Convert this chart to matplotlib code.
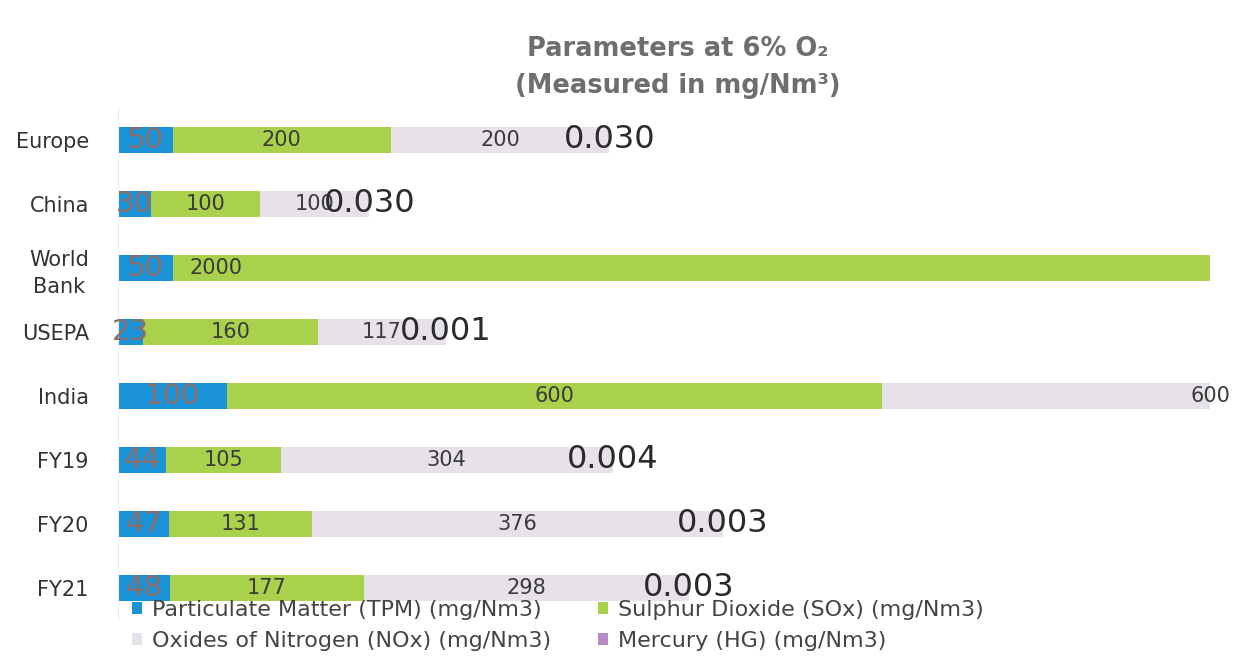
import matplotlib
matplotlib.use("Agg")
import matplotlib.pyplot as plt
import numpy as np

# Emission norms and plant performance, mg/Nm3 at 6% O2
regions = ["Europe", "China", "World\nBank", "USEPA", "India", "FY19", "FY20", "FY21"]
pm_values = [50, 30, 50, 23, 100, 44, 47, 48]
sox_values = [200, 100, 2000, 160, 600, 105, 131, 177]
nox_values = [200, 100, 0, 117, 600, 304, 376, 298]
hg_values = [0.030, 0.030, 0.0, 0.001, 0.0, 0.004, 0.003, 0.003]

series_names = [
    "Particulate Matter (TPM) (mg/Nm3)",
    "Sulphur Dioxide (SOx) (mg/Nm3)",
    "Oxides of Nitrogen (NOx) (mg/Nm3)",
    "Mercury (HG) (mg/Nm3)",
]
colors = ["#1992d8", "#a9d14c", "#e7e1ea", "#b48bc4"]

X_MAX = 1000

fig = plt.figure(figsize=(12.37, 6.57), dpi=100)
ax = fig.add_axes([118 / 1237, 37 / 657, (1210 - 118) / 1237, 512 / 657])

y = np.arange(len(regions))
bar_h = 0.4
series = [pm_values, sox_values, nox_values, hg_values]
left = np.zeros(len(regions))
containers = []
handles = []
for vals, col, name in zip(series, colors, series_names):
    vals = np.array(vals, dtype=float)
    bc = ax.barh(y, vals, left=left, height=bar_h, color=col, label=name,
                 edgecolor="none")
    containers.append((bc, vals, left.copy()))
    handles.append(bc)
    left = left + vals

ax.set_xlim(0, X_MAX)
ax.set_ylim(len(regions) - 0.5, -0.5)

# value labels inside the segments
for idx, (bc, vals, starts) in enumerate(containers):
    for i, (v, s) in enumerate(zip(vals, starts)):
        if v <= 0:
            continue
        if idx == 0:
            ax.text(s + v / 2, y[i], f"{v:g}", ha="center", va="center",
                    fontsize=21, color="#8a6d68")
        elif idx == 3:
            ax.text(s + v, y[i], f"{v:.3f}", ha="center", va="center",
                    fontsize=23, color="#2a2a2a")
        else:
            center = s + v / 2
            if center > X_MAX:
                ax.annotate(f"{v:g}", (s, y[i]), xytext=(12, 0),
                            textcoords="offset points", ha="left",
                            va="center", fontsize=15, color="#3a3a3a")
            else:
                ax.text(center, y[i], f"{v:g}", ha="center", va="center",
                        fontsize=15, color="#3a3a3a")

ax.set_yticks(y)
ax.set_yticklabels(regions, fontsize=15, color="#333333",
                   multialignment="center")
for lab in ax.get_yticklabels():
    lab.set_linespacing(1.45)
ax.tick_params(axis="y", length=0, pad=21)
ax.set_xticks([])
for side in ["top", "right", "bottom"]:
    ax.spines[side].set_visible(False)
ax.spines["left"].set_color("#ececec")

fig.text(0.548, 0.898, "Parameters at 6% O₂\n(Measured in mg/Nm³)",
         ha="center", va="center", fontsize=18.5, color="#6e6e6e",
         fontweight="bold", linespacing=1.55)

# legend: row 1 = TPM, SOx; row 2 = NOx, HG (columns fill top to bottom)
order = [0, 2, 1, 3]
fig.legend([handles[k] for k in order], [series_names[k] for k in order],
           loc="lower left", bbox_to_anchor=(112 / 1237, -0.021), ncol=2,
           frameon=False, fontsize=16, handlelength=0.45, handleheight=0.45,
           handletextpad=0.45, columnspacing=2.1, labelspacing=0.5,
           labelcolor="#444444")

fig.savefig("out.png", dpi=100, facecolor="white")
